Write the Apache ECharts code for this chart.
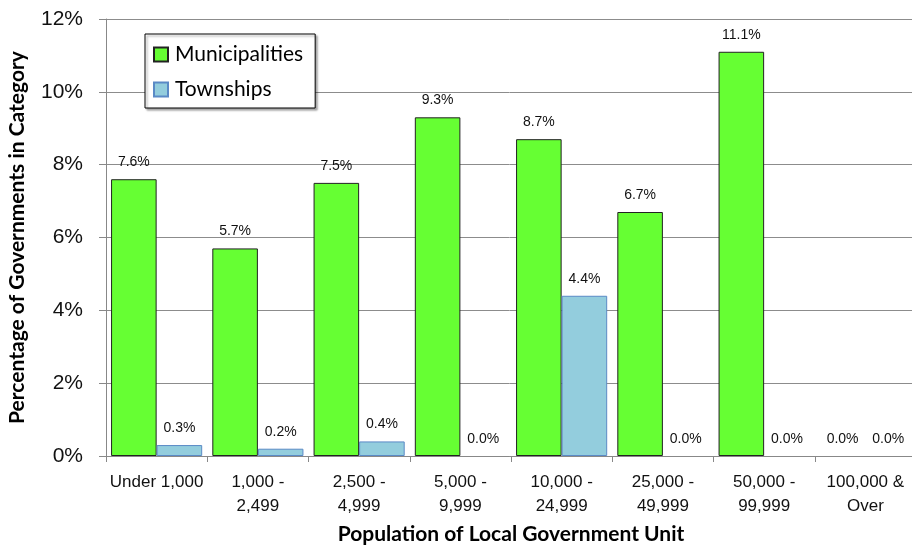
<!DOCTYPE html>
<html><head><meta charset="utf-8">
<script src="https://cdn.jsdelivr.net/npm/echarts@6/dist/echarts.min.js"></script>
<style>html,body{margin:0;padding:0;background:#fff}#c{width:912px;height:548px}</style>
</head><body><div id="c"></div>
<script>
const categories = ["Under 1,000", "1,000 -\n2,499", "2,500 -\n4,999", "5,000 -\n9,999", "10,000 -\n24,999", "25,000 -\n49,999", "50,000 -\n99,999", "100,000 &\nOver"];
const municipalities = [7.6, 5.7, 7.5, 9.3, 8.7, 6.7, 11.1, 0.0];
const townships = [0.3, 0.2, 0.4, 0.0, 4.4, 0.0, 0.0, 0.0];
const yTicks = [0, 2, 4, 6, 8, 10, 12];

const chart = echarts.init(document.getElementById('c'), null, {renderer: 'canvas'});
const labelStyle = {show: true, position: 'top', distance: 10, color: '#111', fontFamily: '"Liberation Sans Narrow","Liberation Sans",Arial', fontSize: 14, formatter: p => p.value.toFixed(1) + '%'};
const toData = arr => arr.map(v => v === 0 ? {value: v, itemStyle: {borderWidth: 0}} : v);
chart.setOption({
  animation: false,
  grid: {left: 106, top: 19, width: 810, height: 437, containLabel: false, outerBoundsMode: 'none'},
  legend: {
    left: 145, top: 34, width: 170, orient: 'vertical', itemGap: 14,
    itemWidth: 14, itemHeight: 14, padding: [10, 12, 8, 8],
    borderColor: '#000', borderWidth: 1, backgroundColor: '#fff',
    shadowColor: 'rgba(0,0,0,0.35)', shadowOffsetX: 2, shadowOffsetY: 2, shadowBlur: 2,
    textStyle: {fontFamily: 'Lato, "Open Sans", sans-serif', fontSize: 21, color: '#000', padding: [0, 0, 0, 2]},
    data: [{name: 'Municipalities', icon: 'rect'}, {name: 'Townships', icon: 'rect'}]
  },
  xAxis: {
    type: 'category', data: categories,
    name: 'Population of Local Government Unit', nameLocation: 'middle', nameGap: 68,
    nameTextStyle: {fontFamily: 'Lato, "Open Sans", sans-serif', fontWeight: 'bold', fontSize: 21, color: '#000'},
    axisLine: {lineStyle: {color: '#888', width: 1}},
    axisTick: {show: true, length: 6, lineStyle: {color: '#888'}},
    axisLabel: {color: '#111', fontFamily: '"Liberation Sans Narrow","Liberation Sans",Arial', fontSize: 17, lineHeight: 24, margin: 14, interval: 0}
  },
  yAxis: {
    type: 'value', min: yTicks[0], max: yTicks[yTicks.length - 1], interval: 2,
    name: 'Percentage of Governments in Category', nameLocation: 'middle', nameGap: 78,
    nameTextStyle: {fontFamily: 'Lato, "Open Sans", sans-serif', fontWeight: 'bold', fontSize: 21, color: '#000'},
    axisLine: {show: true, lineStyle: {color: '#888', width: 1}},
    axisTick: {show: true, length: 7, inside: false, lineStyle: {color: '#888'}},
    axisLabel: {color: '#111', fontFamily: '"Liberation Sans", Arial', fontSize: 21, margin: 23, formatter: v => v + '%'},
    splitLine: {lineStyle: {color: '#8c8c8c', width: 1}}
  },
  series: [
    {name: 'Municipalities', type: 'bar', data: toData(municipalities), barGap: '0%', barCategoryGap: '10%',
     itemStyle: {color: '#66ff33', borderColor: '#222', borderWidth: 1}, label: labelStyle},
    {name: 'Townships', type: 'bar', data: toData(townships), barGap: '0%', barCategoryGap: '10%',
     itemStyle: {color: '#93cddd', borderColor: '#5a8ac6', borderWidth: 1}, label: labelStyle}
  ]
});
</script></body></html>
